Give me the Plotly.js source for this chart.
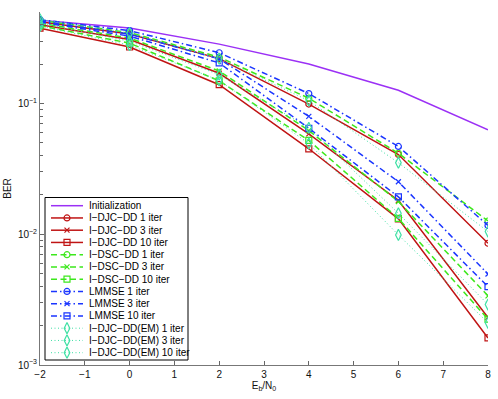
<!DOCTYPE html>
<html>
<head>
<meta charset="utf-8">
<script src="https://cdn.plot.ly/plotly-3.0.1.min.js"></script>
<style>
  html, body { margin: 0; padding: 0; background: #fff; }
  #chart { width: 498px; height: 399px; }
</style>
</head>
<body>
<div id="chart"></div>
<script>
// Eb/N0 (dB) points
const snr = [-2, 0, 2, 4, 6, 8];

// BER values
const initBer = [0.432, 0.378, 0.284, 0.200, 0.126, 0.0628];
const djc1 = [0.422, 0.339, 0.220, 0.0989, 0.0407, 0.00853];
const djc3 = [0.400, 0.308, 0.170, 0.0585, 0.0181, 0.00231];
const djc10 = [0.376, 0.270, 0.139, 0.0450, 0.0131, 0.00161];
const dsc1 = [0.432, 0.348, 0.226, 0.1096, 0.0416, 0.01262];
const dsc3 = [0.410, 0.316, 0.177, 0.0620, 0.0178, 0.00338];
const dsc10 = [0.393, 0.289, 0.149, 0.0521, 0.0132, 0.00224];
const lmmse1 = [0.437, 0.360, 0.244, 0.119, 0.0469, 0.01166];
const lmmse3 = [0.426, 0.339, 0.219, 0.0796, 0.0252, 0.00496];
const lmmse10 = [0.418, 0.327, 0.204, 0.0646, 0.0193, 0.00397];
const em1 = [0.440, 0.344, 0.220, 0.105, 0.0352, 0.01047];
const em3 = [0.410, 0.299, 0.166, 0.0650, 0.01445, 0.00290];
const em10 = [0.390, 0.279, 0.150, 0.0494, 0.00988, 0.00210];

const yTickVals = [0.001, 0.01, 0.1];
const yTickText = ['10<sup>\u22123</sup>', '10<sup>\u22122</sup>', '10<sup>\u22121</sup>'];

const purple = '#9b30f5';
const red = '#c01414';
const green = '#3ce81c';
const blue = '#1a35ff';
const aqua = '#3ee0a4';

const dashLine = '6px,3.5px';
const dashDot = '6px,3px,1.5px,3px';
const dotLine = '1px,2.5px';

const series = [
    {name: 'Initialization', y: initBer, color: purple, dash: 'solid', width: 1.5, symbol: null},
    {name: 'I\u2212DJC\u2212DD 1 iter', y: djc1, color: red, dash: 'solid', width: 1.5, symbol: 'circle-open'},
    {name: 'I\u2212DJC\u2212DD 3 iter', y: djc3, color: red, dash: 'solid', width: 1.5, symbol: 'x-thin-open'},
    {name: 'I\u2212DJC\u2212DD 10 iter', y: djc10, color: red, dash: 'solid', width: 1.5, symbol: 'square-open'},
    {name: 'I\u2212DSC\u2212DD 1 iter', y: dsc1, color: green, dash: dashLine, width: 1.5, symbol: 'circle-open'},
    {name: 'I\u2212DSC\u2212DD 3 iter', y: dsc3, color: green, dash: dashLine, width: 1.5, symbol: 'x-thin-open'},
    {name: 'I\u2212DSC\u2212DD 10 iter', y: dsc10, color: green, dash: dashLine, width: 1.5, symbol: 'square-open'},
    {name: 'LMMSE 1 iter', y: lmmse1, color: blue, dash: dashDot, width: 1.5, symbol: 'circle-open'},
    {name: 'LMMSE 3 iter', y: lmmse3, color: blue, dash: dashDot, width: 1.5, symbol: 'x-thin-open'},
    {name: 'LMMSE 10 iter', y: lmmse10, color: blue, dash: dashDot, width: 1.5, symbol: 'square-open'},
    {name: 'I\u2212DJC\u2212DD(EM) 1 iter', y: em1, color: aqua, dash: dotLine, width: 1, symbol: 'diamond-tall-open'},
    {name: 'I\u2212DJC\u2212DD(EM) 3 iter', y: em3, color: aqua, dash: dotLine, width: 1, symbol: 'diamond-tall-open'},
    {name: 'I\u2212DJC\u2212DD(EM) 10 iter', y: em10, color: aqua, dash: dotLine, width: 1, symbol: 'diamond-tall-open'}
];

function markerFor(s) {
    if (!s.symbol) return {size: 0};
    return {
        symbol: s.symbol,
        size: s.symbol.startsWith('x') ? 5 : (s.symbol.startsWith('diamond') ? 8 : 6),
        color: s.color,
        line: {color: s.color, width: 1.2}
    };
}

const traces = series.map(s => ({
    x: snr,
    y: s.y,
    name: s.name,
    type: 'scatter',
    mode: s.symbol ? 'lines+markers' : 'lines',
    line: {color: s.color, width: s.width, dash: s.dash},
    marker: markerFor(s),
    showlegend: false,
    hoverinfo: 'x+y+name'
}));

// hand-built legend (pixel-like overlay axis x2/y2)
const legLeft = 45, legRight = 188, legTop = 197.5, legBottom = 360;
const rowTop = 205.7, rowStep = 12.25;
const sampleX0 = 51, sampleX1 = 83, textX = 87;

const shapes = [{
    type: 'rect', xref: 'x2', yref: 'y2',
    x0: legLeft, x1: legRight, y0: legTop, y1: legBottom,
    line: {color: '#000', width: 1}, fillcolor: '#fff', layer: 'below'
}];
const annotations = [];

series.forEach((s, i) => {
    const ry = rowTop + i * rowStep;
    shapes.push({
        type: 'line', xref: 'x2', yref: 'y2',
        x0: sampleX0, x1: sampleX1, y0: ry, y1: ry,
        line: {color: s.color, width: s.width, dash: s.dash}
    });
    annotations.push({
        xref: 'x2', yref: 'y2', x: textX, y: ry,
        xanchor: 'left', yanchor: 'middle', showarrow: false,
        text: s.name,
        font: {family: 'Liberation Sans, Arial, sans-serif', size: 10, color: '#000'}
    });
    if (s.symbol) {
        traces.push({
            x: [(sampleX0 + sampleX1) / 2],
            y: [ry],
            xaxis: 'x2', yaxis: 'y2',
            type: 'scatter', mode: 'markers',
            marker: markerFor(s),
            showlegend: false, hoverinfo: 'skip'
        });
    }
});

const axisFont = {family: 'Liberation Sans, Arial, sans-serif', size: 10, color: '#111'};

const layout = {
    width: 498,
    height: 399,
    margin: {l: 40, r: 10, t: 12, b: 34},
    paper_bgcolor: '#fff',
    plot_bgcolor: '#fff',
    showlegend: false,
    font: axisFont,
    xaxis: {
        range: [-2, 8],
        dtick: 1,
        tick0: -2,
        ticks: 'inside',
        ticklen: 4,
        tickcolor: '#666',
        showline: true,
        linecolor: '#777',
        linewidth: 1,
        showgrid: false,
        zeroline: false,
        tickfont: axisFont,
        title: {text: 'E<sub>b</sub>/N<sub>0</sub>', font: axisFont, standoff: 2}
    },
    yaxis: {
        type: 'log',
        range: [-3, Math.log10(0.5)],
        tickmode: 'array',
        tickvals: yTickVals,
        ticktext: yTickText,
        ticks: 'inside',
        ticklen: 4,
        tickcolor: '#666',
        minor: {ticks: 'inside', ticklen: 3, tickcolor: '#666', dtick: 'D1', showgrid: false},
        showline: true,
        linecolor: '#777',
        linewidth: 1,
        showgrid: false,
        zeroline: false,
        tickfont: axisFont,
        title: {text: 'BER', font: axisFont, standoff: 4}
    },
    xaxis2: {overlaying: 'x', anchor: 'y2', range: [40, 488], visible: false, fixedrange: true},
    yaxis2: {overlaying: 'y', anchor: 'x2', range: [365, 12], visible: false, fixedrange: true},
    shapes: shapes,
    annotations: annotations
};

Plotly.newPlot('chart', traces, layout, {displayModeBar: false, staticPlot: true});
</script>
</body>
</html>
